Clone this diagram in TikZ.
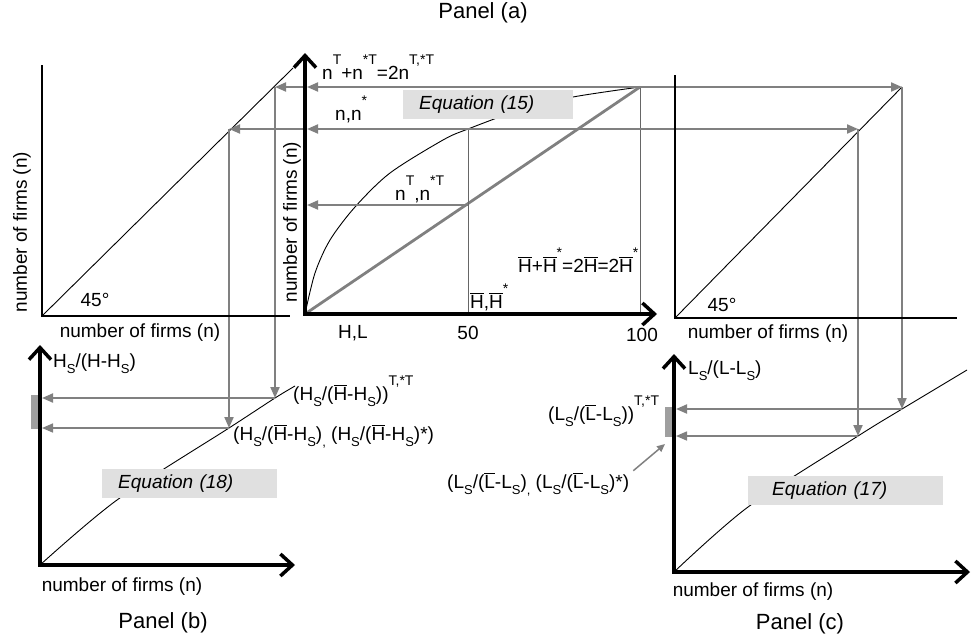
\documentclass[tikz,border=0pt]{standalone}
\usepackage{fontspec}
\setmainfont{Liberation Sans}
\usetikzlibrary{arrows.meta,calc}
\newcommand{\lsub}[1]{\raisebox{-6pt}{\fontsize{13}{13}\selectfont #1}}
\newcommand{\hsup}[1]{\raisebox{15pt}{\fontsize{14}{14}\selectfont #1}}
\newcommand{\ovl}[1]{\ensuremath{\overline{\mbox{#1}}}}
\tikzset{
  axis/.style={line width=3.5pt,{Straight Barb[length=12pt,width=22pt]}-{Straight Barb[length=12pt,width=22pt]}},
  frame/.style={line width=2pt},
  diag/.style={line width=0.9pt},
  guide/.style={draw=gray,line width=2pt,-{Triangle[length=11pt,width=9pt]}},
  eqbox/.style={fill=black!12,minimum height=29pt,inner xsep=16pt,anchor=north west,align=left,font=\itshape\fontsize{19}{22}\selectfont},
  lbl/.style={font=\fontsize{19}{22}\selectfont,inner sep=0pt},
  panel/.style={font=\fontsize{22}{26}\selectfont,inner sep=0pt}
}

\begin{document}
\begin{tikzpicture}[x=1pt,y=-1pt]
  \useasboundingbox (0,0) rectangle (973,637);
  % panel (a)
  \coordinate (Oa) at (305,314);
  \coordinate (Ya) at (305,53);
  \coordinate (Xa) at (657,314);
  \coordinate (Pa) at (640,87);
  \coordinate (Qa) at (468,129);
  \coordinate (Ra) at (468,205);
  % 45 degree panels
  \coordinate (Ol) at (42,316);
  \coordinate (Tl) at (42,65);
  \coordinate (Xl) at (290,316);
  \coordinate (Dl) at (293,68);
  \coordinate (L1) at (275,87);
  \coordinate (L2) at (229,129);
  \coordinate (Or) at (675,318);
  \coordinate (Tr) at (675,75);
  \coordinate (Xr) at (957,318);
  \coordinate (R1) at (902,87);
  \coordinate (R2) at (858,129);
  % panel (b)
  \coordinate (Ob) at (40,565);
  \coordinate (Yb) at (40,345);
  \coordinate (Xb) at (295,565);
  \coordinate (B1) at (275,398);
  \coordinate (B2) at (229,428);
  % panel (c)
  \coordinate (Oc) at (674,572);
  \coordinate (Yc) at (674,354);
  \coordinate (Xc) at (970,572);
  \coordinate (C1) at (902,409);
  \coordinate (C2) at (858,436);

  % curves
  \draw[diag] plot[smooth] coordinates {(Oa) (315,273) (330,240) (355,207) (390,173) (443,140) (Qa) (520,110) (573,97) (Pa)};
  \draw[diag] plot[smooth] coordinates {(Ob) (117,500) (B2) (B1) (295,386)};
  \draw[diag] plot[smooth] coordinates {(Oc) (748,507) (C2) (C1) (967,370)};
  \draw[diag] (Ol) -- (Dl);
  \draw[diag] (Or) -- (R1);
  \draw[gray,line width=2.8pt] (Oa) -- (Pa);
  \draw[black!60,line width=1pt] (Qa) -- (Qa |- Oa);
  \draw[black!60,line width=1pt] (Pa) -- (Pa |- Oa);

  % equation boxes
  \node[eqbox,text width=138pt] (eq15) at (403,90) {Equation (15)};
  \node[eqbox,text width=143pt] (eq18) at (102,469) {Equation (18)};
  \node[eqbox,inner xsep=24pt,text width=147pt] (eq17) at (748,476) {Equation (17)};

  % guide arrows
  \draw[guide,shorten >=2pt] (Pa) -- (Pa -| Ya);
  \draw[guide] (Pa -| Ya) -- (L1);
  \draw[guide] (Pa) -- (R1);
  \draw[guide,shorten >=2pt] (Qa) -- (Qa -| Ya);
  \draw[guide] (Qa -| Ya) -- (L2);
  \draw[guide] (Qa) -- (R2);
  \draw[guide,shorten >=2pt] (Ra) -- (Ra -| Ya);
  \draw[guide] (L1) -- (B1);
  \draw[guide] (L2) -- (B2);
  \draw[guide] (R1) -- (C1);
  \draw[guide] (R2) -- (C2);
  \draw[guide,shorten >=2pt] (B1) -- (B1 -| Yb);
  \draw[guide,line width=1.6pt,shorten >=2pt] (B2) -- (B2 -| Yb);
  \draw[guide,shorten >=2pt] (C1) -- (C1 -| Yc);
  \draw[guide,line width=1.6pt,shorten >=2pt] (C2) -- (C2 -| Yc);
  \fill[gray!75] (31,395) rectangle (39,429);
  \fill[gray!75] (665,407) rectangle (673,437);

  % axes
  \draw[axis] (Ya) -- (Oa) -- (Xa);
  \draw[axis] (Yb) -- (Ob) -- (Xb);
  \draw[axis] (Yc) -- (Oc) -- (Xc);
  \draw[frame] (Tl) -- (Ol) -- (Xl);
  \draw[frame] (Tr) -- (Or) -- (Xr);

  % labels
  \node[panel] (titleA) at (483,13) {Panel (a)};
  \node[panel] (titleB) at (163,623) {Panel (b)};
  \node[panel] (titleC) at (800,624) {Panel (c)};
  \node[lbl,rotate=90] (ylabL) at (22,232) {number of firms (n)};
  \node[lbl] (xlabL) at (140,333) {number of firms (n)};
  \node[lbl] (degL) at (95,300) {45°};
  \node[lbl,rotate=90] (ylabA) at (292,222) {number of firms (n)};
  \node[lbl] (xlabR) at (768,334) {number of firms (n)};
  \node[lbl] (degR) at (722,305) {45°};
  \node[lbl] (xlabB) at (122,587) {number of firms (n)};
  \node[lbl] (xlabC) at (753,592) {number of firms (n)};
  \node[lbl] (tickHL) at (353,333) {H,L};
  \node[lbl] (tick50) at (468,333) {50};
  \node[lbl] (tick100) at (642,335) {100};
  \node[lbl,anchor=base west] (sumN) at (322,79) {n\hsup{T}+n\hsup{*T}=2n\hsup{T,*T}};
  \node[lbl,anchor=base west] (nStar) at (335,120) {n,n\hsup{*}};
  \node[lbl,anchor=base west] (nT) at (395,200) {n\hsup{T},n\hsup{*T}};
  \node[lbl,anchor=base west] (sumH) at (518,272) {\ovl{H}+\ovl{H}\hsup{*}=2\ovl{H}=2\ovl{H}\hsup{*}};
  \node[lbl,anchor=base west] (hBar) at (470,308) {\ovl{H},\ovl{H}\hsup{*}};
  \node[lbl,anchor=base west] (yB) at (53,367) {H\lsub{S}/(H-H\lsub{S})};
  \node[lbl,anchor=base west] (ratioHT) at (293,400) {(H\lsub{S}/(\ovl{H}-H\lsub{S}))\hsup{T,*T}};
  \node[lbl,anchor=base west] (ratioH) at (233,440) {(H\lsub{S}/(\ovl{H}-H\lsub{S})\lsub{,} (H\lsub{S}/(\ovl{H}-H\lsub{S})*)};
  \node[lbl,anchor=base west] (yC) at (688,374) {L\lsub{S}/(L-L\lsub{S})};
  \node[lbl,anchor=base west] (ratioLT) at (548,420) {(L\lsub{S}/(\ovl{L}-L\lsub{S}))\hsup{T,*T}};
  \node[lbl,anchor=base west] (ratioL) at (447,488) {(L\lsub{S}/(\ovl{L}-L\lsub{S})\lsub{,} (L\lsub{S}/(\ovl{L}-L\lsub{S})*)};
  \draw[gray,line width=1.5pt,-{Triangle[length=8pt,width=7pt]}] ($(ratioL.north east)+(4,-2)$) -- (665,444);
\end{tikzpicture}
\end{document}
